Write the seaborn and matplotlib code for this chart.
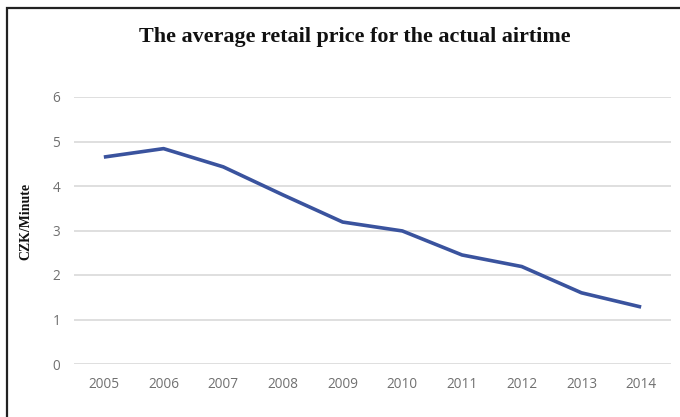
import matplotlib
matplotlib.use("Agg")
import matplotlib.pyplot as plt
import seaborn as sns
import pandas as pd
from matplotlib.patches import Rectangle

# Average retail price per minute of actual airtime (CZK)
years = [2005, 2006, 2007, 2008, 2009, 2010, 2011, 2012, 2013, 2014]
price_czk_per_min = [4.65, 4.84, 4.43, 3.80, 3.19, 2.99, 2.45, 2.19, 1.60, 1.28]
y_ticks = [0, 1, 2, 3, 4, 5, 6]

df = pd.DataFrame({"year": years, "price": price_czk_per_min})

sns.set_theme(style="white")
plt.rcParams["font.family"] = ["Open Sans", "DejaVu Sans"]

fig = plt.figure(figsize=(6.8, 4.17), dpi=100)
ax = fig.add_axes([74 / 680, 1 - 364 / 417, (671 - 74) / 680, (364 - 97) / 417])

for t in y_ticks:
    ax.axhline(t, color="#d9d9d9", lw=1.2, zorder=0)

sns.lineplot(data=df, x="year", y="price", ax=ax, color="#3a539e",
             linewidth=2.6, solid_capstyle="butt", zorder=3)

ax.set_xlim(years[0] - 0.5, years[-1] + 0.5)
ax.set_ylim(0, 6)
ax.set_xticks(years)
ax.set_xticklabels([str(y) for y in years])
ax.set_yticks(y_ticks)
ax.tick_params(axis="both", length=0, labelsize=9.8, labelcolor="#707070")
ax.tick_params(axis="x", pad=9)
ax.tick_params(axis="y", pad=10)
for s in ax.spines.values():
    s.set_visible(False)
ax.set_xlabel("")
ax.set_ylabel("")

fig.text(355 / 680, 1 - 37 / 417, "The average retail price for the actual airtime",
         ha="center", va="center", fontsize=15.9, fontweight="bold",
         family=["Liberation Serif", "DejaVu Serif"], color="#111111")
fig.text(26 / 680, 1 - 221 / 417, "CZK/Minute", rotation=90, ha="center",
         va="center", fontsize=10, fontweight="bold",
         family=["Liberation Serif", "DejaVu Serif"], color="#111111")

# Frame around the chart area
fig.patches.append(Rectangle((7 / 680, -0.05), 1.1, 1 - 8 / 417 + 0.05,
                             transform=fig.transFigure, fill=False,
                             edgecolor="#222222", linewidth=1.6))

fig.savefig("out.png", dpi=100, facecolor="white")
